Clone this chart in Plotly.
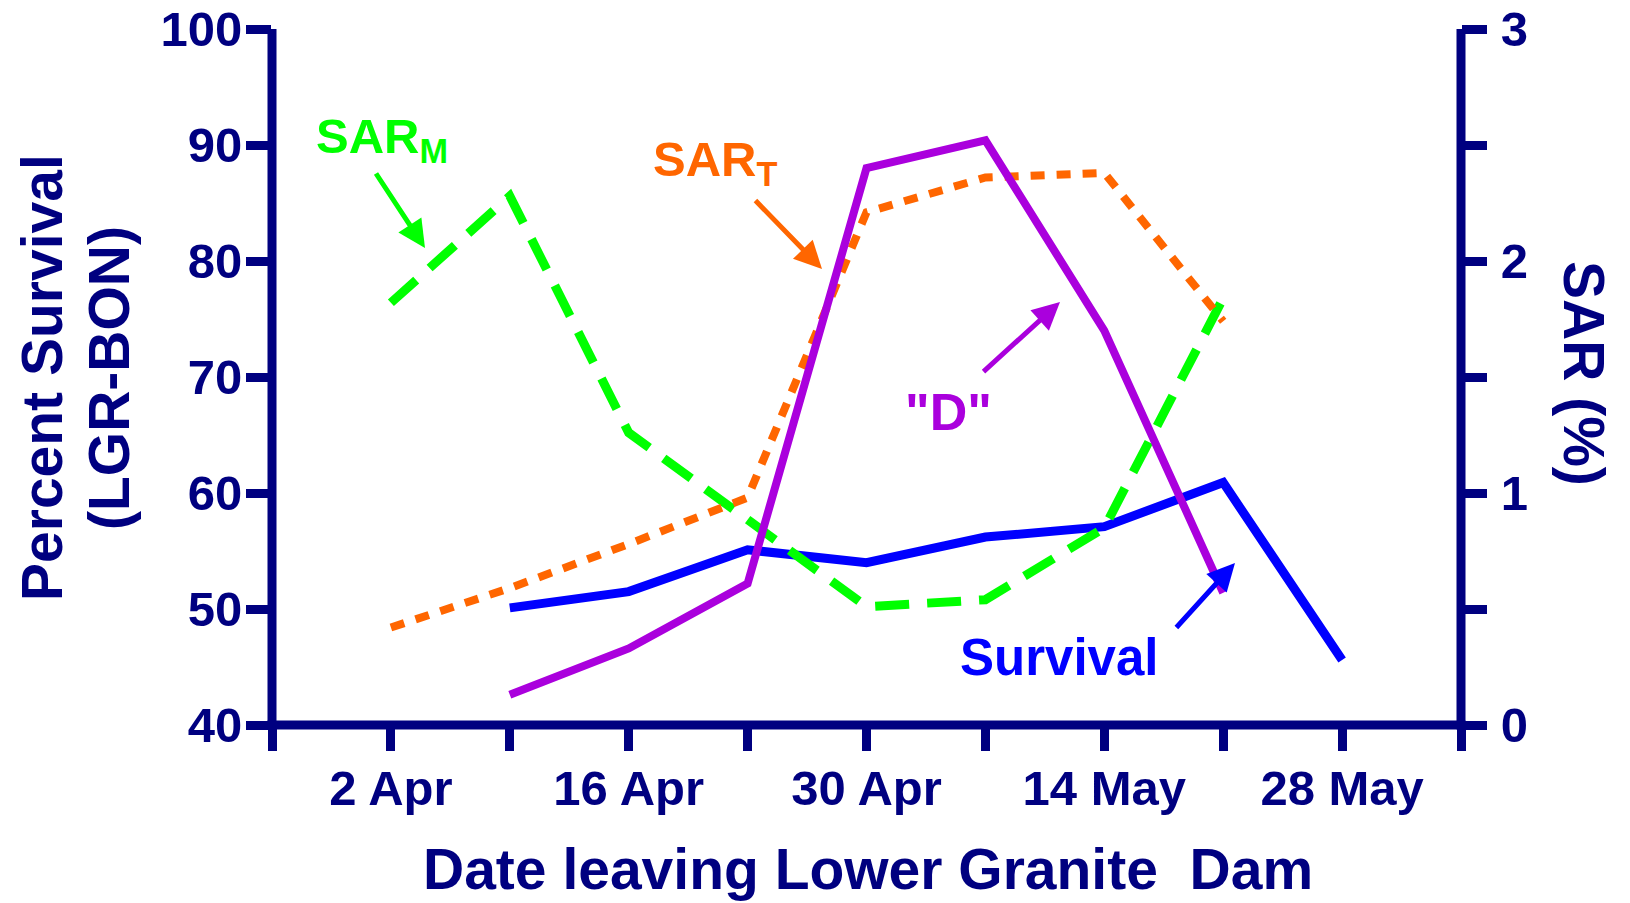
import plotly.graph_objects as go

# ---------------- data ----------------
dates_surv = ["2008-04-09", "2008-04-16", "2008-04-23", "2008-04-30",
              "2008-05-07", "2008-05-14", "2008-05-21", "2008-05-28"]
survival = [50.1, 51.5, 55.1, 54.0, 56.2, 57.1, 60.9, 45.6]

dates_d = ["2008-04-09", "2008-04-16", "2008-04-23", "2008-04-30",
           "2008-05-07", "2008-05-14", "2008-05-21"]
d_vals = [0.13, 0.33, 0.61, 2.40, 2.52, 1.70, 0.57]

dates_sar = ["2008-04-02", "2008-04-09", "2008-04-16", "2008-04-23",
             "2008-04-30", "2008-05-07", "2008-05-14", "2008-05-21"]
sar_t = [0.42, 0.59, 0.78, 0.98, 2.21, 2.36, 2.38, 1.74]
sar_m = [1.82, 2.28, 1.26, 0.88, 0.51, 0.54, 0.85, 1.84]

x_tickvals = ["2008-03-26", "2008-04-02", "2008-04-09", "2008-04-16", "2008-04-23",
              "2008-04-30", "2008-05-07", "2008-05-14", "2008-05-21", "2008-05-28",
              "2008-06-04"]
x_ticktext = ["", "2 Apr", "", "16 Apr", "", "30 Apr", "", "14 May", "", "28 May", ""]
y2_tickvals = [0, 0.5, 1, 1.5, 2, 2.5, 3]
y2_ticktext = ["0", "", "1", "", "2", "", "3"]

# ---------------- style ----------------
NAVY = "#000080"
GREEN = "#00FF00"
ORANGE = "#FF6600"
PURPLE = "#AA00DD"
BLUE = "#0000FF"
FONT = "Liberation Sans, Arial, sans-serif"

LW = 9                       # axis line width
W, H = 1630, 903
L, R, T, B = 272, 169, 29, 178
PW, PH = W - L - R, H - T - B


def px(xs):
    return (xs - L) / PW


def py(ys):
    return (H - B - ys) / PH


fig = go.Figure()

fig.add_trace(go.Scatter(x=dates_sar, y=sar_m, mode="lines", yaxis="y2",
                         line=dict(color=GREEN, width=9, dash="34px,18px"),
                         name="SAR M"))
fig.add_trace(go.Scatter(x=dates_sar, y=sar_t, mode="lines", yaxis="y2",
                         line=dict(color=ORANGE, width=8, dash="14px,12px"),
                         name="SAR T"))
fig.add_trace(go.Scatter(x=dates_surv, y=survival, mode="lines", yaxis="y",
                         line=dict(color=BLUE, width=9), name="Survival"))
fig.add_trace(go.Scatter(x=dates_d, y=d_vals, mode="lines", yaxis="y2",
                         line=dict(color=PURPLE, width=8), name="D"))

tickfont = dict(family=FONT, size=49, color=NAVY, weight="bold")
axis_common = dict(showline=False,
                   ticks="outside", ticklen=25, tickwidth=LW, tickcolor=NAVY,
                   tickfont=tickfont, showgrid=False, zeroline=False,
                   automargin=False, ticklabeloverflow="allow")

fig.update_layout(
    template="none",
    width=W, height=H,
    margin=dict(l=L, r=R, t=T, b=B, pad=0),
    paper_bgcolor="white", plot_bgcolor="white",
    showlegend=False,
    font=dict(family=FONT, color=NAVY),
    xaxis=dict(
        type="date",
        range=["2008-03-26", "2008-06-04"],
        tickmode="array", tickvals=x_tickvals, ticktext=x_ticktext,
        ticklabelstandoff=-5, **axis_common,
    ),
    yaxis=dict(
        range=[40, 100], tickmode="linear", tick0=40, dtick=10,
        ticklabelstandoff=-6, **axis_common,
    ),
    yaxis2=dict(
        range=[0, 3], overlaying="y", side="right",
        tickmode="array", tickvals=y2_tickvals, ticktext=y2_ticktext,
        ticklabelstandoff=4, **axis_common,
    ),
)

# axis lines (drawn as paper shapes so they sit centred on the plot edges)
hx = LW / 2 / PW
hy = LW / 2 / PH
axis_line = dict(type="line", xref="paper", yref="paper",
                 line=dict(color=NAVY, width=LW), layer="above")
fig.add_shape(x0=0, x1=0, y0=-hy, y1=1, **axis_line)          # left
fig.add_shape(x0=1, x1=1, y0=-hy, y1=1, **axis_line)          # right
fig.add_shape(x0=-hx, x1=1 + hx, y0=0, y1=0, **axis_line)     # bottom

titlefont = dict(family=FONT, size=57, color=NAVY, weight="bold")
annots = []
# axis titles
annots.append(dict(text="Date leaving Lower Granite  Dam", x=px(868), y=py(869),
                   xref="paper", yref="paper", xanchor="center", yanchor="middle",
                   showarrow=False, font=titlefont))
annots.append(dict(text="Percent Survival", x=px(42), y=py(378), textangle=-90,
                   xref="paper", yref="paper", xanchor="center", yanchor="middle",
                   showarrow=False, font=titlefont))
annots.append(dict(text="(LGR-BON)", x=px(109), y=py(378), textangle=-90,
                   xref="paper", yref="paper", xanchor="center", yanchor="middle",
                   showarrow=False, font=titlefont))
annots.append(dict(text="SAR (%)", x=px(1584), y=py(373), textangle=90,
                   xref="paper", yref="paper", xanchor="center", yanchor="middle",
                   showarrow=False, font=titlefont))


# series labels
def lab(text, xc, yc, color, size=51):
    return dict(text=text, x=px(xc), y=py(yc), xref="paper", yref="paper",
                xanchor="center", yanchor="middle", showarrow=False,
                font=dict(family=FONT, size=size, color=color, weight="bold"))


annots.append(lab("SAR<sub>M</sub>", 382, 140, GREEN, 49))
annots.append(lab("SAR<sub>T</sub>", 715, 163, ORANGE, 49))
annots.append(lab('"D"', 948, 412, PURPLE, 52))
annots.append(lab("Survival", 1059, 657, BLUE, 51))


# arrows
def arrow(tail, head, color):
    return dict(text="", x=px(head[0]), y=py(head[1]),
                ax=px(tail[0]), ay=py(tail[1]),
                xref="x domain", yref="y domain", axref="x domain", ayref="y domain",
                showarrow=True, arrowhead=2, arrowsize=1.1, arrowwidth=5,
                arrowcolor=color, standoff=0)


annots.append(arrow((375, 172), (425, 248), GREEN))
annots.append(arrow((754, 199), (822, 269), ORANGE))
annots.append(arrow((982, 373), (1060, 302), PURPLE))
annots.append(arrow((1175, 629), (1235, 563), BLUE))

fig.update_layout(annotations=annots)

fig.write_html("out.html",
               config={"displayModeBar": False},
               post_script="document.body.style.margin='0';"
                           "document.body.style.overflow='hidden';")
